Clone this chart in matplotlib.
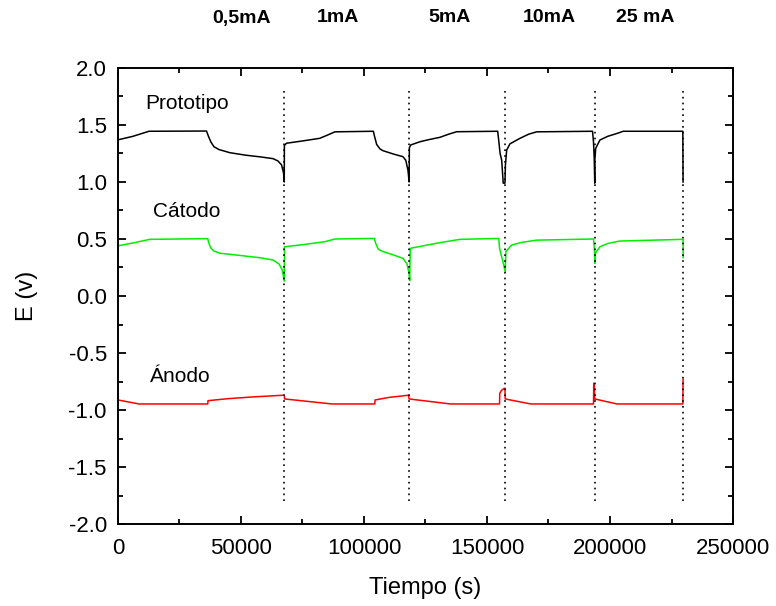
import matplotlib
matplotlib.use("Agg")
import matplotlib.pyplot as plt
from matplotlib.ticker import MultipleLocator

plt.rcParams['font.family'] = ['Liberation Sans', 'DejaVu Sans']

# Prototipo (black)
proto_t = [0, 6000, 12600, 36000, 36800, 37800, 39000, 41000, 45500, 52000, 58000, 63000,
           65000, 66500, 67300, 67600,
           67650, 68500, 75000, 82000, 85000, 88200, 103800, 104300, 105150, 106500, 107700,
           112000, 115850, 117000, 117900, 118350,
           118450, 119000, 122760, 126000, 130900, 134500, 137700, 154350, 154900, 155300,
           155980, 156600, 157300,
           157500, 158000, 159350, 163400, 167000, 170200, 192900, 193300, 193600, 193800,
           193850, 194200, 195900, 199000, 202700, 205400, 229600, 229700]
proto_v = [1.37, 1.40, 1.445, 1.447, 1.40, 1.35, 1.31, 1.285, 1.257, 1.235, 1.22, 1.205,
           1.185, 1.15, 1.08, 1.00,
           1.32, 1.34, 1.36, 1.383, 1.41, 1.44, 1.445, 1.40, 1.33, 1.29, 1.275,
           1.245, 1.222, 1.19, 1.10, 1.00,
           1.30, 1.325, 1.353, 1.37, 1.392, 1.42, 1.441, 1.445, 1.34, 1.254,
           1.19, 0.99, 0.99,
           1.15, 1.28, 1.335, 1.383, 1.42, 1.44, 1.445, 1.35, 1.20, 0.99,
           1.20, 1.296, 1.368, 1.40, 1.425, 1.445, 1.445, 1.00]

# Catodo (green)
catodo_t = [0, 6000, 13000, 36500, 37000, 37800, 39000, 41500, 50000, 58000, 63000, 65500,
            66800, 67600,
            67700, 75000, 84000, 88200, 104200, 104800, 105800, 107700, 112000, 115850,
            117500, 118300, 118600,
            118800, 124000, 130900, 139000, 154800, 155100, 155600, 156500, 157400,
            157700, 160000, 164000, 170200, 193300, 193700, 193850,
            194000, 195900, 199000, 203900, 229700, 229750]
catodo_v = [0.44, 0.465, 0.497, 0.503, 0.46, 0.42, 0.395, 0.375, 0.355, 0.335, 0.316, 0.28,
            0.228, 0.13,
            0.432, 0.45, 0.476, 0.50, 0.505, 0.46, 0.41, 0.39, 0.36, 0.33,
            0.28, 0.20, 0.134,
            0.418, 0.44, 0.468, 0.497, 0.505, 0.42, 0.374, 0.30, 0.213,
            0.39, 0.447, 0.47, 0.49, 0.50, 0.40, 0.287,
            0.374, 0.432, 0.46, 0.482, 0.497, 0.336]

# Anodo (red)
anodo_t = [0, 8600, 36500, 36600, 45000, 55000, 67600,
           67700, 87000, 104400, 104500, 110000, 118200,
           118300, 135200, 155100, 155200, 155800, 156800, 157300,
           157400, 167800, 193300, 193400, 193600,
           193800, 202800, 229600, 229700]
anodo_v = [-0.912, -0.947, -0.947, -0.918, -0.90, -0.885, -0.870,
           -0.903, -0.947, -0.947, -0.912, -0.89, -0.870,
           -0.903, -0.947, -0.947, -0.855, -0.830, -0.812, -0.81,
           -0.903, -0.947, -0.947, -0.765, -0.80,
           -0.903, -0.947, -0.947, -0.73]

# current changes (dotted lines) and labels above the plot
switch_t = [67600, 118400, 157400, 193800, 229700]
current_labels = ['0,5mA', '1mA', '5mA', '10mA', '25 mA']
label_px = [242, 338, 450, 549, 645]  # layout only

fig = plt.figure(figsize=(7.76, 6.06), dpi=100)
ax = fig.add_axes([0.152, 0.1353, 0.7926, 0.7525])

ax.plot(proto_t, proto_v, color='black', lw=1.1)
ax.plot(catodo_t, catodo_v, color='#00ee00', lw=1.1)
ax.plot(anodo_t, anodo_v, color='red', lw=1.1)

for t in switch_t:
    ax.plot([t, t], [-1.8, 1.8], color='black', lw=1.2, linestyle=(0, (1, 2.5)))

ax.text(28000, 1.69, 'Prototipo', fontsize=15, ha='center', va='center')
ax.text(28000, 0.74, 'Cátodo', fontsize=15, ha='center', va='center')
ax.text(25200, -0.71, 'Ánodo', fontsize=15, ha='center', va='center')

for lab, px in zip(current_labels, label_px):
    fig.text(px / 776, 1 - 18 / 606, lab, fontsize=14, fontweight='bold',
             ha='center', va='center')

ax.set_xlim(0, 250000)
ax.set_ylim(-2.0, 2.0)
ax.xaxis.set_major_locator(MultipleLocator(50000))
ax.xaxis.set_minor_locator(MultipleLocator(25000))
ax.yaxis.set_major_locator(MultipleLocator(0.5))
ax.yaxis.set_minor_locator(MultipleLocator(0.25))
ax.yaxis.set_major_formatter(plt.FormatStrFormatter('%.1f'))
ax.tick_params(which='both', direction='in', top=True, right=True, labelsize=16, width=1.3)
ax.tick_params(which='major', length=6)
ax.tick_params(which='minor', length=3.5)
ax.tick_params(axis='x', pad=10)
ax.tick_params(axis='y', pad=8)
for s in ax.spines.values():
    s.set_linewidth(1.4)

ax.set_xlabel('Tiempo (s)', fontsize=17, labelpad=13)
ax.set_ylabel('E (v)', fontsize=17, labelpad=22)

fig.savefig('out.png', dpi=100)
